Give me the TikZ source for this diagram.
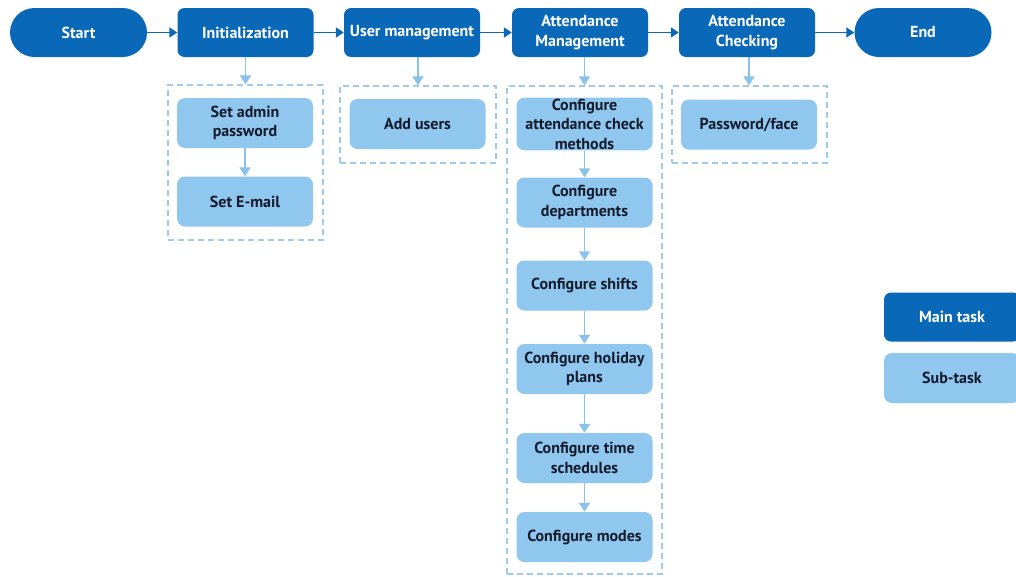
\documentclass[tikz,border=0pt]{standalone}
\usepackage{fontspec}
\setmainfont{PT Sans}
\usetikzlibrary{arrows.meta}
\definecolor{mainblue}{HTML}{0A68B8}
\definecolor{subblue}{HTML}{8FC7EE}
\definecolor{dashblue}{HTML}{9ECBEC}
\definecolor{subarrow}{HTML}{8BC2EC}
\definecolor{subtext}{HTML}{151B2C}
\tikzset{
  mainbox/.style={fill=mainblue, text=white, minimum width=136pt, minimum height=49pt, rounded corners=7pt, align=center, inner sep=2pt, font=\fontsize{16}{19.5}\selectfont\bfseries},
  endbox/.style={mainbox, rounded corners=24.5pt, minimum width=137pt},
  subbox/.style={fill=subblue, text=subtext, minimum width=136pt, minimum height=50pt, rounded corners=8pt, align=center, inner sep=1pt, font=\fontsize{16}{19.5}\selectfont\bfseries},
  groupbox/.style={draw=dashblue, line width=1.3pt, dash pattern=on 6pt off 4pt, inner sep=0pt},
  mainarrow/.style={draw=mainblue, line width=1.8pt, -{Triangle[width=10pt,length=8pt]}},
  subarrow/.style={draw=subarrow, line width=1.8pt, -{Triangle[width=11pt,length=9pt]}},
}
\begin{document}
\begin{tikzpicture}[x=1pt,y=-1pt]
\useasboundingbox (0,0) rectangle (1016,576);
\clip (0,0) rectangle (1016,576);
\fill[white] (0,0) rectangle (1016,576);
% groups
\node[groupbox, minimum width=155pt, minimum height=155pt] (g1) at (245.5,162.5) {};
\node[groupbox, minimum width=156pt, minimum height=77pt] (g2) at (418,124.5) {};
\node[groupbox, minimum width=155pt, minimum height=488pt] (g3) at (584.5,330) {};
\node[groupbox, minimum width=155pt, minimum height=77pt] (g4) at (749.5,124.5) {};
% main row
\node[endbox] (start) at (78.5,32.5) {Start};
\node[mainbox] (init) at (245.5,32.5) {Initialization};
\node[mainbox] (user) at (412,32.5) {User management};
\node[mainbox] (attm) at (580,32.5) {Attendance\\Management};
\node[mainbox] (attc) at (747,32.5) {Attendance\\Checking};
\node[endbox] (end) at (923,32.5) {End};
% sub tasks
\node[subbox] (sap) at (245,123) {Set admin\\password};
\node[subbox] (sem) at (245,201.5) {Set E-mail};
\node[subbox] (add) at (417.5,124) {Add users};
\node[subbox] (c1) at (584.5,124) {Configure\\attendance check\\methods};
\node[subbox] (c2) at (584.5,202.5) {Configure\\departments};
\node[subbox] (c3) at (584.5,285.5) {Configure shifts};
\node[subbox] (c4) at (584.5,369) {Configure holiday\\plans};
\node[subbox] (c5) at (584.5,458) {Configure time\\schedules};
\node[subbox] (c6) at (584.5,537) {Configure modes};
\node[subbox] (pf) at (749,124.5) {Password/face};
% legend
\node[mainbox] (lmain) at (952,317) {Main task};
\node[subbox] (lsub) at (952,378) {Sub-task};
% main arrows
\draw[mainarrow] (start) -- (init);
\draw[mainarrow] (init) -- (user);
\draw[mainarrow] (user) -- (attm);
\draw[mainarrow] (attm) -- (attc);
\draw[mainarrow] (attc) -- (end);
% down arrows
\draw[subarrow] (init.south) -- (init.south |- g1.north);
\draw[subarrow] (user.south -| g2.north) -- (g2.north);
\draw[subarrow] (attm.south -| g3.north) -- (g3.north);
\draw[subarrow] (attc.south -| pf.north) -- (pf.north |- g4.north);
\draw[subarrow] (sap) -- (sem);
\draw[subarrow] (c1) -- (c2);
\draw[subarrow] (c2) -- (c3);
\draw[subarrow] (c3) -- (c4);
\draw[subarrow] (c4) -- (c5);
\draw[subarrow] (c5) -- (c6);
\end{tikzpicture}
\end{document}
